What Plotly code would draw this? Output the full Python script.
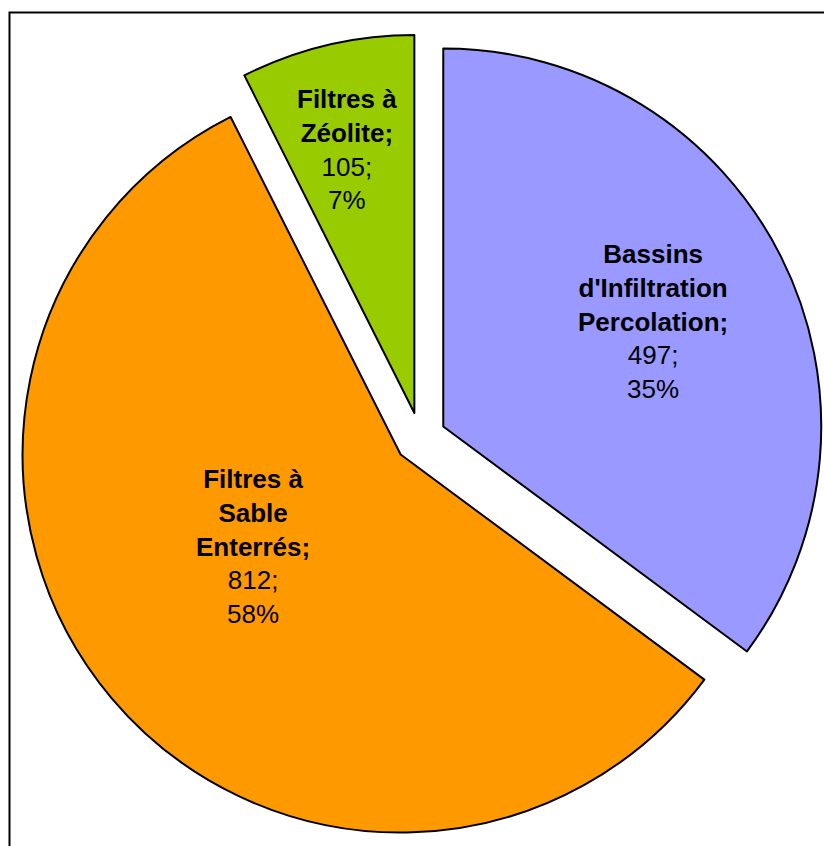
import math
import plotly.graph_objects as go

# ---- data ----
categories = ["Bassins d'Infiltration Percolation", "Filtres à Sable Enterrés", "Filtres à Zéolite"]
label_lines = [["Bassins", "d'Infiltration", "Percolation;"],
               ["Filtres à", "Sable", "Enterrés;"],
               ["Filtres à", "Zéolite;"]]
values = [497, 812, 105]
pct_labels = ["35%", "58%", "7%"]

# ---- styles ----
colors = ["#9999FF", "#FF9900", "#99CC00"]
W, H = 824, 846
cx, cy = 420.3, 438.0          # pie centre in px
r = 378.0                      # pie radius in px
pull = 0.068
label_r = [0.62, 0.46, 0.72]   # label distance as fraction of radius
label_dang = [0.0, 8.0, -1.0]  # label angular offset (deg)

half = r * (1 + pull)
dom_x = [(cx - half) / W, min(1.0, (cx + half) / W)]
dom_y = [1 - (cy + half) / H, 1 - (cy - half) / H]

fig = go.Figure()
fig.add_trace(go.Pie(
    labels=categories,
    values=values,
    sort=False,
    direction="clockwise",
    rotation=0,
    pull=[pull] * len(values),
    marker=dict(colors=colors, line=dict(color="black", width=2)),
    textinfo="none",
    hoverinfo="label+value+percent",
    showlegend=False,
    domain=dict(x=dom_x, y=dom_y),
))

# labels, positioned from each slice's mid angle
total = sum(values)
start = 0.0
d = pull * r
for i, v in enumerate(values):
    span = v / total * 360.0
    mid = start + span / 2
    t = math.radians(mid)
    ax = cx + d * math.sin(t)
    ay = cy - d * math.cos(t)
    t2 = math.radians(mid + label_dang[i])
    lx = ax + label_r[i] * r * math.sin(t2)
    ly = ay - label_r[i] * r * math.cos(t2)
    txt = "<b>" + "<br>".join(label_lines[i]) + "</b><br>" + f"{v};<br>{pct_labels[i]}"
    fig.add_annotation(
        x=lx / W, y=1 - ly / H, xref="paper", yref="paper",
        text=txt, showarrow=False, xanchor="center", yanchor="middle",
        align="center",
        font=dict(family="Liberation Sans, Arial, sans-serif", size=26, color="black"),
    )
    start += span

# chart frame (extends beyond the visible crop at right and bottom)
fig.add_shape(type="rect", xref="paper", yref="paper",
              x0=9.5 / W, x1=1.05, y0=-0.05, y1=1 - 12.5 / H,
              line=dict(color="black", width=2), fillcolor="rgba(0,0,0,0)", layer="below")

fig.update_layout(
    width=W, height=H,
    margin=dict(l=0, r=0, t=0, b=0),
    paper_bgcolor="white", plot_bgcolor="white",
)

fig.write_html("out.html")
